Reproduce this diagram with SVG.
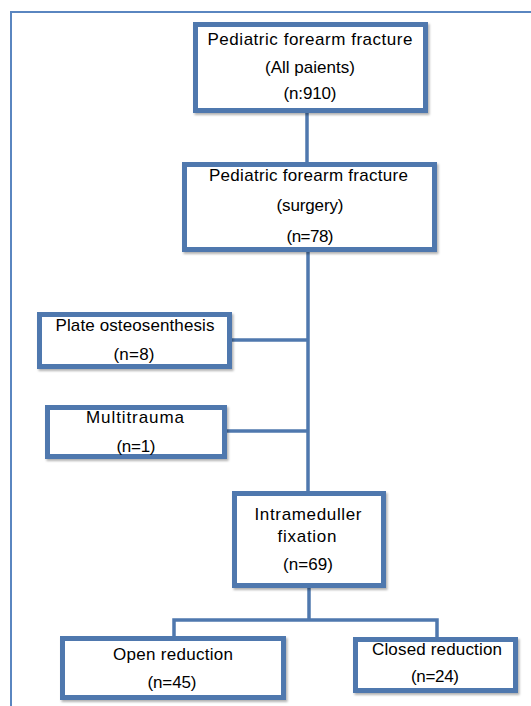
<svg xmlns="http://www.w3.org/2000/svg" width="531" height="706" viewBox="0 0 531 706">
<defs>
<filter id="sh" x="-10%" y="-10%" width="130%" height="130%">
<feDropShadow dx="1.5" dy="2" stdDeviation="1.2" flood-color="#000" flood-opacity="0.3"/>
</filter>
</defs>
<style>
.box{fill:#fff;stroke:#4f78ae;stroke-width:5;filter:url(#sh)}
.ln{fill:none;stroke:#4f78ae;stroke-width:3.5}
text{font-family:"Liberation Sans",Arial,sans-serif;font-size:17px;fill:#000;text-anchor:middle}
</style>
<rect width="531" height="706" fill="#fff"/>
<path d="M11 706V12H531" fill="none" stroke="#5a86c0" stroke-width="2"/>
<g id="connectors">
<path class="ln" d="M307 110V165"/>
<path class="ln" d="M308 250V493"/>
<path class="ln" d="M230 340H308"/>
<path class="ln" d="M225 431H308"/>
<path class="ln" d="M309 586V620"/>
<path class="ln" d="M174 639V620H437V639"/>
</g>
<g id="n1">
<rect class="box" x="195.5" y="24.5" width="230" height="86"/>
<text x="310" y="45" textLength="205" lengthAdjust="spacing">Pediatric  forearm  fracture</text>
<text x="310" y="73" textLength="90" lengthAdjust="spacing">(All paients)</text>
<text x="310" y="99" textLength="53" lengthAdjust="spacing">(n:910)</text>
</g>
<g id="n2">
<rect class="box" x="184.5" y="164.5" width="250" height="85"/>
<text x="308.5" y="181" textLength="199" lengthAdjust="spacing">Pediatric forearm fracture</text>
<text x="310" y="211" textLength="67" lengthAdjust="spacing">(surgery)</text>
<text x="310" y="242" textLength="47" lengthAdjust="spacing">(n=78)</text>
</g>
<g id="n3">
<rect class="box" x="39.5" y="314.5" width="190" height="52"/>
<text x="135" y="331" textLength="159" lengthAdjust="spacing">Plate osteosenthesis</text>
<text x="134" y="360" textLength="41" lengthAdjust="spacing">(n=8)</text>
</g>
<g id="n4">
<rect class="box" x="47.5" y="407.5" width="177" height="49"/>
<text x="135" y="423" textLength="98" lengthAdjust="spacing">Multitrauma</text>
<text x="136" y="452" textLength="39" lengthAdjust="spacing">(n=1)</text>
</g>
<g id="n5">
<rect class="box" x="234.5" y="493.5" width="149" height="92"/>
<text x="308" y="520" textLength="107" lengthAdjust="spacing">Intrameduller</text>
<text x="307" y="542" textLength="59" lengthAdjust="spacing">fixation</text>
<text x="308" y="570" textLength="50" lengthAdjust="spacing">(n=69)</text>
</g>
<g id="n6">
<rect class="box" x="62.5" y="638.5" width="221" height="59"/>
<text x="173" y="660" textLength="120" lengthAdjust="spacing">Open reduction</text>
<text x="172" y="688" textLength="49" lengthAdjust="spacing">(n=45)</text>
</g>
<g id="n7">
<rect class="box" x="355.5" y="639.5" width="160" height="51"/>
<text x="437" y="655" textLength="130" lengthAdjust="spacing">Closed reduction</text>
<text x="435" y="682" textLength="48" lengthAdjust="spacing">(n=24)</text>
</g>
</svg>
